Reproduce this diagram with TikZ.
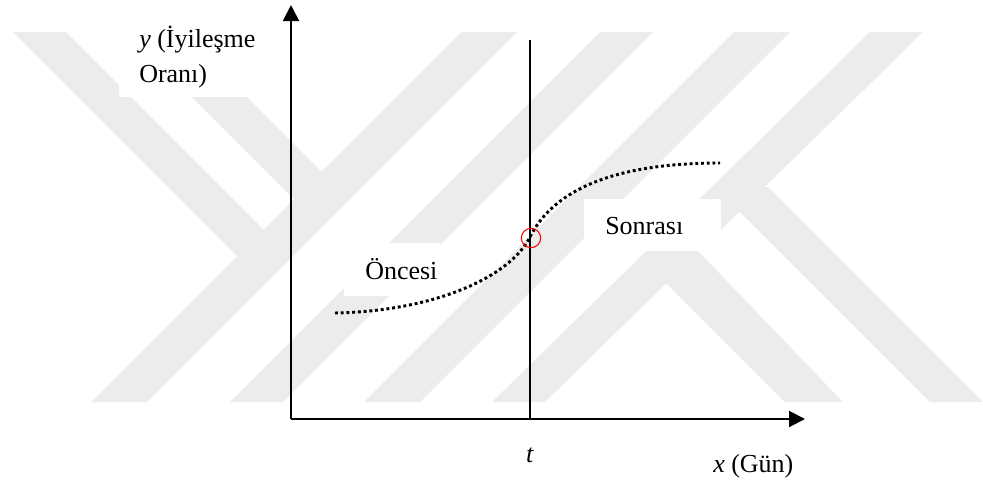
\documentclass[tikz,border=0pt]{standalone}
\usepackage{fontspec}
\setmainfont{Liberation Serif}
\usetikzlibrary{arrows.meta}
\definecolor{wmgray}{HTML}{ECECEC}
\tikzset{
  axis/.style={line width=1.5pt, -{Triangle[length=12pt,width=12pt]}},
  tline/.style={line width=1.1pt},
  dotcurve/.style={line width=2.2pt, dash pattern=on 2.2pt off 2.1pt},
  lbl/.style={font=\fontsize{19.5}{26}\selectfont, inner sep=0pt},
  wm/.style={fill=wmgray},
  blank/.style={fill=white}
}
\begin{document}
\begin{tikzpicture}[x=0.75pt,y=-0.75pt]
  \useasboundingbox (0,0) rectangle (983,483);
  % watermark
  \fill[wm] (13,32) -- (66,32) -- (290,256) -- (237,256) -- cycle;
  \fill[wm] (127,32) -- (182,32) -- (349,199) -- (294,199) -- cycle;
  \fill[wm] (461,32) -- (517,32) -- (147,402) -- (91,402) -- cycle;
  \fill[wm] (600,32) -- (653,32) -- (283,402) -- (230,402) -- cycle;
  \fill[wm] (734,32) -- (790,32) -- (420,402) -- (364,402) -- cycle;
  \fill[wm] (870,32) -- (923,32) -- (545,402) -- (492,402) -- cycle;
  \fill[wm] (645,251) -- (698,251) -- (843,402) -- (785,402) -- (660,277) -- cycle;
  \fill[wm] (715,187) -- (768,187) -- (983,402) -- (930,402) -- cycle;
  % white boxes behind labels
  \fill[blank] (119,10) rectangle (266,97);
  \fill[blank] (344,243) rectangle (440,296);
  \fill[blank] (584,199) rectangle (721,251);
  % axes
  \coordinate (o) at (291,419);
  \coordinate (ytop) at (291,5);
  \coordinate (xend) at (805,419);
  \draw[axis] (o) -- (ytop);
  \draw[axis] (o) -- (xend);
  % time line
  \coordinate (ttop) at (530,40);
  \coordinate (tbot) at (530,419);
  \draw[tline] (tbot) -- (ttop);
  % curve
  \coordinate (c0) at (335,313);
  \coordinate (cm) at (530,237);
  \coordinate (c1) at (720,163);
  \draw[dotcurve] (c0) .. controls (435,311) and (510,277) .. (cm)
    .. controls (555,187) and (620,163) .. (c1);
  \node[circle, draw=red, line width=0.8pt, minimum size=14.5pt, inner sep=0pt] (sw) at (531,238) {};
  % labels
  \node[lbl, anchor=base west] (ylab1) at (139,47) {\textit{y} (İyileşme};
  \node[lbl, anchor=base west] (ylab2) at (139,82) {Oranı)};
  \node[lbl, anchor=base west] (before) at (365,279) {Öncesi};
  \node[lbl, anchor=base west] (after) at (605,234) {Sonrası};
  \node[lbl, anchor=base] (tlab) at (530,462) {\textit{t}};
  \node[lbl, anchor=base west] (xlab) at (713,472) {\textit{x} (Gün)};
\end{tikzpicture}
\end{document}
